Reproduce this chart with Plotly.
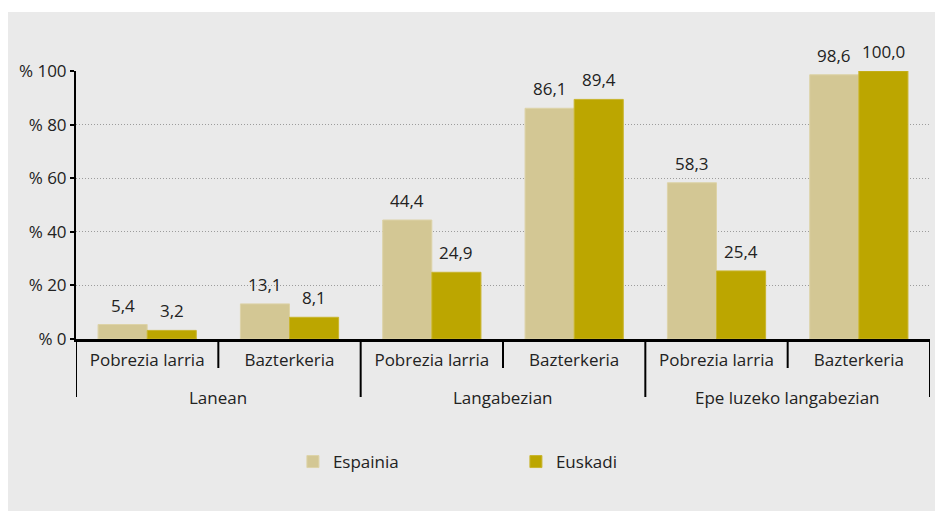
import plotly.graph_objects as go

groups = ["Lanean", "Lanean", "Langabezian", "Langabezian",
          "Epe luzeko langabezian", "Epe luzeko langabezian"]
subs = ["Pobrezia larria", "Bazterkeria", "Pobrezia larria", "Bazterkeria",
        "Pobrezia larria", "Bazterkeria"]
espainia = [5.4, 13.1, 44.4, 86.1, 58.3, 98.6]
euskadi = [3.2, 8.1, 24.9, 89.4, 25.4, 100.0]
y_ticks = [0, 20, 40, 60, 80, 100]

tan = "#D3C794"
gold = "#BCA600"
bg = "#EAEAEA"
font = "Open Sans"
txt = "#222222"
bargap = 0.31
plot_h = 268

xpos = list(range(len(subs)))

fig = go.Figure()
fig.add_trace(go.Bar(x=xpos, y=espainia, name="Espainia",
                     marker=dict(color=tan, line=dict(color="#DDD3A8", width=1))))
fig.add_trace(go.Bar(x=xpos, y=euskadi, name="Euskadi",
                     marker=dict(color=gold, line=dict(color="#C9B52E", width=1))))

# value labels above each bar, comma as decimal mark
off = (1 - bargap) / 4
annots = []
for i in xpos:
    for val, dx in ((espainia[i], -off), (euskadi[i], off)):
        annots.append(dict(x=i + dx, y=val, xref="x", yref="y",
                           text=f"{val:.1f}".replace(".", ","), showarrow=False,
                           yanchor="bottom", yshift=6,
                           font=dict(family=font, size=17, color=txt)))

# outer category labels
names = list(dict.fromkeys(groups))
for g in names:
    idx = [i for i in xpos if groups[i] == g]
    annots.append(dict(x=sum(idx) / len(idx), y=-58 / plot_h, xref="x", yref="paper",
                       text=g, showarrow=False, yanchor="middle",
                       font=dict(family=font, size=17, color=txt)))

# category separators below the axis: long ones between groups, short within
shapes = [dict(type="rect", xref="paper", yref="paper", layer="below",
               x0=-0.2, x1=1.2, y0=1 + 59 / plot_h, y1=1.4,
               fillcolor="white", line=dict(width=0))]
for b in range(len(subs) + 1):
    outer = b == 0 or b == len(subs) or groups[b - 1] != groups[b]
    depth = 58 if outer else 29
    shapes.append(dict(type="line", xref="x", yref="paper",
                       x0=b - 0.5, x1=b - 0.5, y0=0, y1=-depth / plot_h,
                       line=dict(color="black", width=2)))

fig.update_layout(
    width=943, height=511,
    margin=dict(l=68, r=21, t=63, b=180),
    paper_bgcolor=bg, plot_bgcolor=bg,
    barmode="group", bargap=bargap, bargroupgap=0,
    font=dict(family=font, size=17, color=txt),
    annotations=annots,
    shapes=shapes,
    legend=dict(orientation="h", x=0.254, xanchor="left", y=-0.459, yanchor="middle",
                entrywidth=178, font=dict(family=font, size=17, color=txt),
                bgcolor="rgba(0,0,0,0)"),
    xaxis=dict(range=[-0.5, len(subs) - 0.5], tickvals=xpos, ticktext=subs,
               showline=True, linecolor="black", linewidth=2.5,
               ticks="", ticklabelstandoff=4, showgrid=False, zeroline=False,
               tickfont=dict(family=font, size=17, color=txt)),
    yaxis=dict(range=[0, 100], tickvals=y_ticks,
               ticktext=["% " + str(v) for v in y_ticks],
               showline=True, linecolor="black", linewidth=2,
               ticks="outside", ticklen=4, tickcolor="black", tickwidth=1.5,
               showgrid=True, gridcolor="#9C9C9C", gridwidth=1, griddash="1px,2px",
               zeroline=False, tickfont=dict(family=font, size=17, color=txt)),
)

fig.write_html("out.html")
